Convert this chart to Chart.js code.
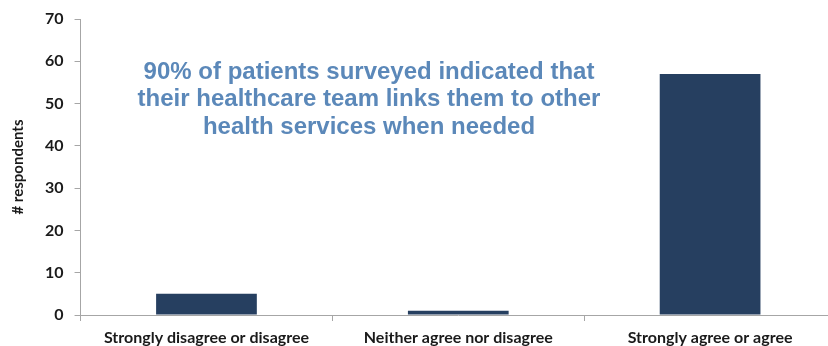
<!DOCTYPE html>
<html>
<head>
<meta charset="utf-8">
<script src="https://cdn.jsdelivr.net/npm/chart.js@4/dist/chart.umd.min.js"></script>
<style>
  html, body { margin: 0; padding: 0; background: #fff; overflow: hidden; }
  #wrap { position: relative; width: 836px; height: 346px; }
</style>
</head>
<body>
<div id="wrap"><canvas id="c" width="836" height="346"></canvas></div>
<script>
const categories = ['Strongly disagree or disagree', 'Neither agree nor disagree', 'Strongly agree or agree'];
const respondents = [5, 1, 57];
const yTicks = [0, 10, 20, 30, 40, 50, 60, 70];
const headline = [
  '90% of patients surveyed indicated that',
  'their healthcare team links them to other',
  'health services when needed'
];

const headlinePlugin = {
  id: 'headline',
  afterDraw(chart) {
    const ctx = chart.ctx;
    ctx.save();
    ctx.font = 'bold 24px "Liberation Sans", Arial, sans-serif';
    ctx.fillStyle = '#5b88b9';
    ctx.textAlign = 'center';
    ctx.textBaseline = 'middle';
    headline.forEach((line, i) => ctx.fillText(line, 369, 72 + i * 27.5));
    ctx.restore();
  }
};

new Chart(document.getElementById('c'), {
  type: 'bar',
  data: {
    labels: categories,
    datasets: [{
      data: respondents,
      backgroundColor: '#263f60',
      borderWidth: 0,
      barPercentage: 0.4,
      categoryPercentage: 1.0
    }]
  },
  options: {
    responsive: false,
    animation: false,
    layout: { padding: { top: 4, left: 0, right: 0, bottom: 0 } },
    plugins: { legend: { display: false }, tooltip: { enabled: false } },
    scales: {
      x: {
        afterFit(scale) { scale.height = 31; },
        grid: { offset: true, drawOnChartArea: false, drawTicks: true, tickLength: 6, color: '#a6a6a6' },
        border: { color: '#a6a6a6', width: 1 },
        ticks: {
          color: '#1a1a1a',
          font: { family: 'Lato, "Open Sans", sans-serif', weight: 'bold', size: 16, lineHeight: 0.8 },
          padding: 10,
          maxRotation: 0
        }
      },
      y: {
        min: 0, max: 70,
        afterBuildTicks(axis) { axis.ticks = yTicks.map(v => ({ value: v })); },
        grid: { drawOnChartArea: false, drawTicks: true, tickLength: 6, color: '#a6a6a6' },
        border: { color: '#a6a6a6', width: 1 },
        ticks: {
          color: '#1a1a1a',
          font: { family: 'Lato, "Open Sans", sans-serif', weight: 'bold', size: 16, lineHeight: 1.0 },
          padding: 11
        },
        title: {
          display: true,
          text: '# respondents',
          color: '#1a1a1a',
          font: { family: 'Lato, "Open Sans", sans-serif', weight: 'bold', size: 15 },
          padding: { top: 9, bottom: 7 }
        }
      }
    }
  },
  plugins: [headlinePlugin]
});
</script>
</body>
</html>
